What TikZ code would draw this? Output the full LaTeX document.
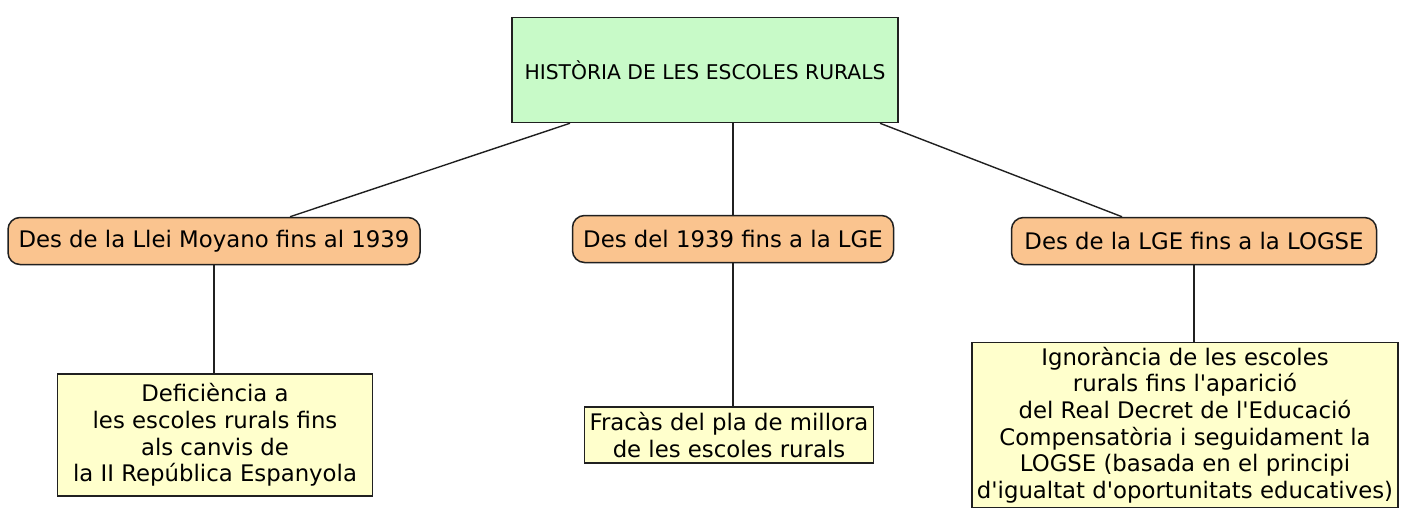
\documentclass[tikz,border=0pt]{standalone}
\usepackage{fontspec}
\setmainfont{DejaVu Sans}

\definecolor{titlegreen}{HTML}{C8FAC8}
\definecolor{eraorange}{HTML}{FAC48F}
\definecolor{factyellow}{HTML}{FFFFCC}
\definecolor{edge}{HTML}{202020}

\tikzset{
  titlebox/.style={draw=edge, line width=1.5pt, fill=titlegreen, minimum width=386pt, minimum height=105pt, font=\fontsize{20.3}{24}\selectfont},
  erabox/.style={draw=edge, line width=1.5pt, rounded corners=12pt, fill=eraorange, minimum height=47pt, font=\fontsize{22.8}{26}\selectfont},
  factbox/.style={draw=edge, line width=1.5pt, fill=factyellow, align=center, inner sep=1pt, font=\fontsize{22.8}{26.6}\selectfont},
  link/.style={draw=edge, line width=1.4pt}
}

\begin{document}
\begin{tikzpicture}[x=1pt,y=-1pt]
\useasboundingbox (0,0) rectangle (1401,511);

\node [titlebox] (hist) at (705,70) {HISTÒRIA DE LES ESCOLES RURALS};

\node [erabox, minimum width=412pt] (moyano) at (214,241) {Des de la Llei Moyano fins al 1939};
\node [erabox, minimum width=321pt] (lge) at (733,239) {Des del 1939 fins a la LGE};
\node [erabox, minimum width=365pt] (logse) at (1194,241) {Des de la LGE fins a la LOGSE};

\node [factbox, minimum width=315pt, minimum height=122pt] (deficiencia) at (215,435) {Deficiència a\\les escoles rurals fins\\als canvis de\\la II República Espanyola};
\node [factbox, minimum width=289pt, minimum height=56pt] (fracas) at (729,435) {Fracàs del pla de millora\\de les escoles rurals};
\node [factbox, minimum width=426pt, minimum height=165pt] (ignorancia) at (1185,425) {Ignorància de les escoles\\rurals fins l\textquotesingle aparició\\del Real Decret de l\textquotesingle Educació\\Compensatòria i seguidament la\\LOGSE (basada en el principi\\d\textquotesingle igualtat d\textquotesingle oportunitats educatives)};

\draw [link] ([xshift=-135pt]hist.south) -- ([xshift=76pt]moyano.north);
\draw [link] (hist.south -| lge.north) -- (lge);
\draw [link] ([xshift=175pt]hist.south) -- ([xshift=-72pt]logse.north);
\draw [link] (moyano) -- (moyano |- deficiencia.north);
\draw [link] (lge) -- (fracas.north -| lge.south);
\draw [link] (logse) -- (logse |- ignorancia.north);

\end{tikzpicture}
\end{document}
